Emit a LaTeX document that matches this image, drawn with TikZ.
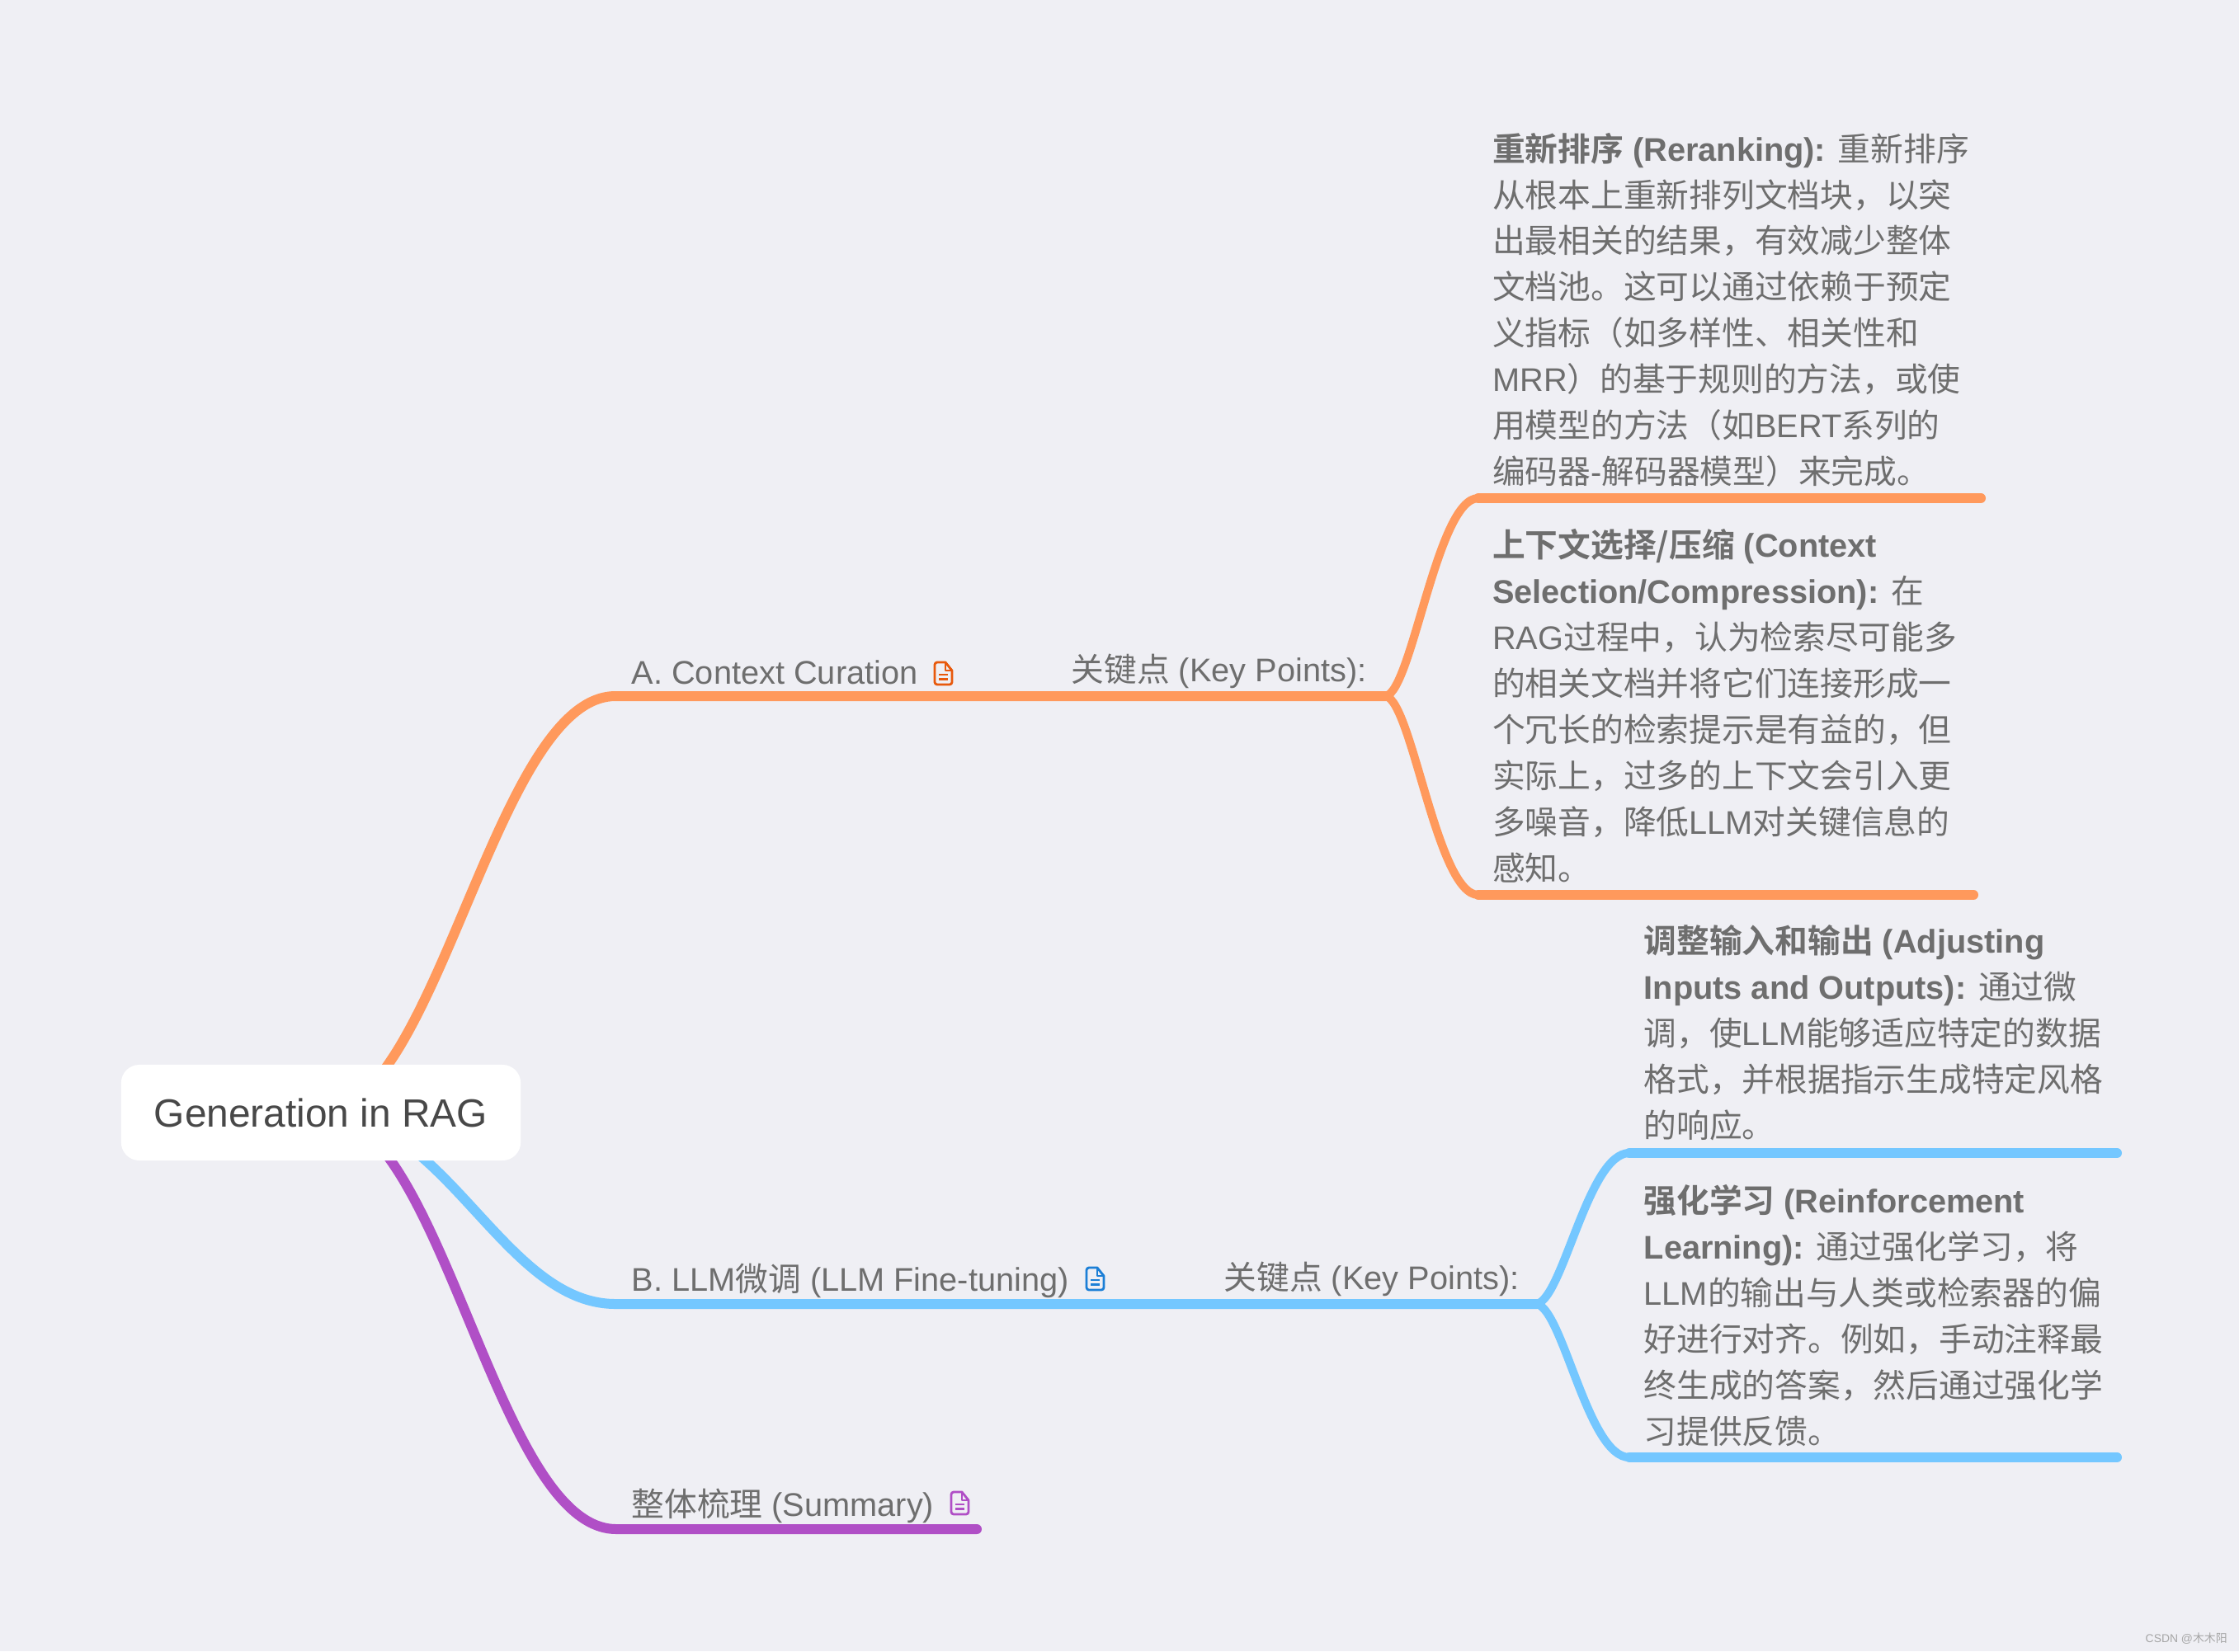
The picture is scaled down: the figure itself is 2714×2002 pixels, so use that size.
\documentclass[tikz,border=0pt]{standalone}
\usepackage{fontspec}
\setmainfont{Liberation Sans}
\newfontfamily\cjkr{Noto Sans CJK SC}
\newfontfamily\cjkb{Noto Sans CJK SC Bold}
\newcommand{\zh}[1]{{\cjkr #1}}
\newcommand{\zb}[1]{{\cjkb #1}}
\definecolor{pagebg}{HTML}{EFEFF4}
\definecolor{orangeline}{HTML}{FF995C}
\definecolor{blueline}{HTML}{74C7FF}
\definecolor{purpleline}{HTML}{B04FC6}
\definecolor{orangeicon}{HTML}{E8590C}
\definecolor{blueicon}{HTML}{1C7FD6}
\definecolor{labelgray}{HTML}{6E6E6E}
\definecolor{rootgray}{HTML}{484848}
\pgfdeclarelayer{edges}
\pgfdeclarelayer{pagelayer}
\pgfsetlayers{pagelayer,edges,main}
\tikzset{
  x=0.01cm,y=-0.01cm,
  rootbox/.style={fill=white,rounded corners=0.22cm,minimum width=4.84cm,minimum height=1.16cm,inner sep=0,text=rootgray,font=\fontsize{13.6}{16}\selectfont},
  label/.style={anchor=base west,inner sep=0,text=labelgray,font=\fontsize{11.3}{15.9}\selectfont},
  para/.style={anchor=north west,inner sep=0,align=left,text=labelgray,font=\fontsize{11.3}{15.9}\selectfont},
  branch/.style={line width=0.12cm,line cap=round,line join=round},
  sub/.style={line width=0.1cm,line cap=round,line join=round},
  rule/.style={line width=0.12cm,line cap=round},
  noteicon/.style={line width=0.028cm,line join=round,draw=#1},
}
\newcommand{\st}{\rule{0pt}{10.5pt}}
\newcommand{\doc}[3]{% x, y (top-left), colour
  \begin{scope}[shift={(#1,#2)}]
    \draw[noteicon=#3] (3,0) -- (13,0) -- (21,10) -- (21,24) to[out=-90,in=0] (18,27) -- (3,27) to[out=180,in=-90] (0,24) -- (0,3) to[out=90,in=180] cycle;
    \draw[noteicon=#3] (13,0) -- (13,10) -- (21,10);
    \draw[noteicon=#3] (5,15) -- (16,15) (5,20.5) -- (16,20.5);
  \end{scope}}
\begin{document}
\begin{tikzpicture}
\begin{pgfonlayer}{pagelayer}
  \fill[pagebg] (0,0) rectangle (2714,2002);
\end{pgfonlayer}
\useasboundingbox (0,0) rectangle (2714,2002);

\node[rootbox] (root) at (389,1349) {Generation in RAG};

\node[label] (a) at (765,829) {A. Context Curation};
\node[label] (ak) at (1298,826) {\zh{关键点} (Key Points):};
\node[label] (b) at (765,1565) {B. LLM\zh{微调} (LLM Fine-tuning)};
\node[label] (bk) at (1483,1563) {\zh{关键点} (Key Points):};
\node[label] (c) at (765,1838) {\zh{整体梳理} (Summary)};

\node[para] (p1) at (1808.5,157.5) {\st\zb{重新排序} \textbf{(Reranking):} \zh{重新排序}\\
\zh{从根本上重新排列文档块，以突}\\
\zh{出最相关的结果，有效减少整体}\\
\zh{文档池。这可以通过依赖于预定}\\
\zh{义指标（如多样性、相关性和}\\
MRR\zh{）的基于规则的方法，或使}\\
\zh{用模型的方法（如}BERT\zh{系列的}\\
\zh{编码器}-\zh{解码器模型）来完成。}};

\node[para] (p2) at (1808.5,638) {\st\zb{上下文选择/压缩} \textbf{(Context}\\
\textbf{Selection/Compression):} \zh{在}\\
RAG\zh{过程中，认为检索尽可能多}\\
\zh{的相关文档并将它们连接形成一}\\
\zh{个冗长的检索提示是有益的，但}\\
\zh{实际上，过多的上下文会引入更}\\
\zh{多噪音，降低}LLM\zh{对关键信息的}\\
\zh{感知。}};

\node[para] (p3) at (1992,1118) {\st\zb{调整输入和输出} \textbf{(Adjusting}\\
\textbf{Inputs and Outputs):} \zh{通过微}\\
\zh{调，使}LLM\zh{能够适应特定的数据}\\
\zh{格式，并根据指示生成特定风格}\\
\zh{的响应。}};

\node[para] (p4) at (1992,1433) {\st\zb{强化学习} \textbf{(Reinforcement}\\
\textbf{Learning):} \zh{通过强化学习，将}\\
LLM\zh{的输出与人类或检索器的偏}\\
\zh{好进行对齐。例如，手动注释最}\\
\zh{终生成的答案，然后通过强化学}\\
\zh{习提供反馈。}};

\doc{1133}{803}{orangeicon}
\doc{1317}{1537}{blueicon}
\doc{1153}{1809}{purpleline}

\node[anchor=base west,inner sep=0,text=black!35,font=\fontsize{3.95}{5}\selectfont] (mark) at (2600,1991) {CSDN @\zh{木木阳}};

\coordinate (aj) at (746,844);
\coordinate (ajunc) at (1680,844);
\coordinate (a1s) at (1792,604);
\coordinate (a1e) at (2401,604);
\coordinate (a2s) at (1792,1085);
\coordinate (a2e) at (2392,1085);
\coordinate (bj) at (746,1581);
\coordinate (bjunc) at (1863,1581);
\coordinate (b1s) at (1975,1398);
\coordinate (b1e) at (2566,1398);
\coordinate (b2s) at (1975,1767);
\coordinate (b2e) at (2566,1767);
\coordinate (cj) at (747,1854);
\coordinate (ce) at (1184,1854);

\begin{pgfonlayer}{edges}
  \draw[branch,orangeline] (root.center) .. controls (530,1349) and (600,844) .. (aj) -- (ajunc);
  \draw[sub,orangeline] (ajunc) .. controls (1712,836) and (1742,604) .. (a1s);
  \draw[rule,orangeline] (a1s) -- (a1e);
  \draw[sub,orangeline] (ajunc) .. controls (1712,852) and (1742,1085) .. (a2s);
  \draw[rule,orangeline] (a2s) -- (a2e);
  \draw[branch,blueline] (root.center) .. controls (540,1349) and (610,1581) .. (bj) -- (bjunc);
  \draw[sub,blueline] (bjunc) .. controls (1895,1573) and (1925,1398) .. (b1s);
  \draw[rule,blueline] (b1s) -- (b1e);
  \draw[sub,blueline] (bjunc) .. controls (1895,1589) and (1925,1767) .. (b2s);
  \draw[rule,blueline] (b2s) -- (b2e);
  \draw[branch,purpleline] (root.center) .. controls (536,1345) and (600,1854) .. (cj) -- (ce);
\end{pgfonlayer}
\end{tikzpicture}
\end{document}
